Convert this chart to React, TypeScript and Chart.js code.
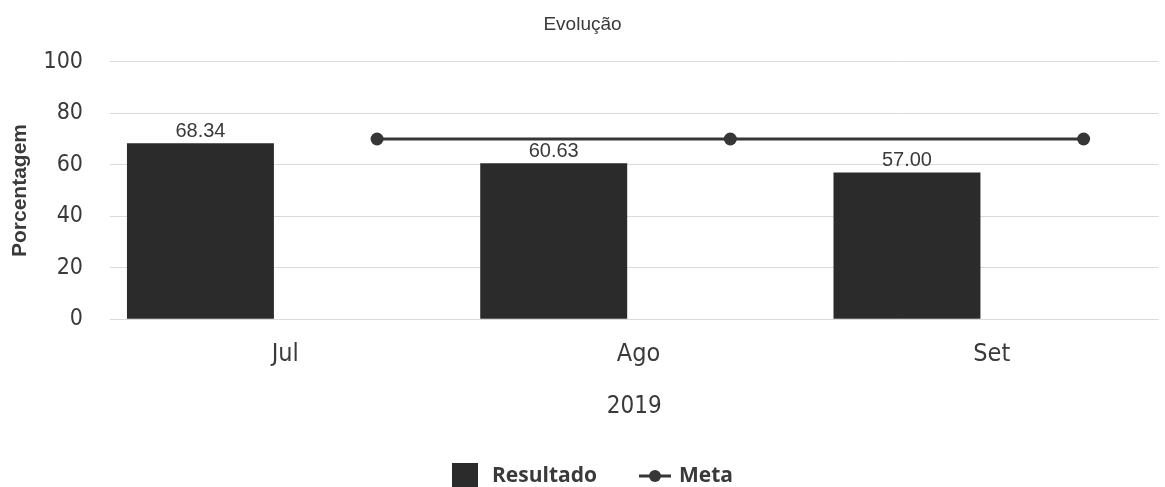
import React, { useEffect, useRef } from 'react';
import { Chart, registerables } from 'chart.js';

Chart.register(...registerables);

const chartTitle = 'Evolução';
const categories = ['Jul', 'Ago', 'Set'];
const resultado = [68.34, 60.63, 57.0];
const meta = [70, 70, 70];
const yTicks = [0, 20, 40, 60, 80, 100];
const xTitle = '2019';
const yTitle = 'Porcentagem';
const seriesNames = ['Resultado', 'Meta'];

const META_OFFSET = 0.5;
const LABEL_SHIFT = 0.24;

const NARROW = '"Liberation Sans Narrow", "DejaVu Sans Condensed", "Liberation Sans", Arial, sans-serif';
const SANS = '"Liberation Sans", Arial, sans-serif';
const LEGEND_FONT = 'bold 21px "Open Sans", "Noto Sans", sans-serif';
const BAR_COLOR = '#2b2b2b';
const LINE_COLOR = '#363636';
const TEXT = '#3a3a3a';

const dataLabels = {
  id: 'dataLabels',
  afterDatasetsDraw(chart: any) {
    const meta0 = chart.getDatasetMeta(0);
    const ctx = chart.ctx;
    ctx.save();
    ctx.font = `20px ${SANS}`;
    ctx.fillStyle = TEXT;
    ctx.textAlign = 'center';
    ctx.textBaseline = 'bottom';
    meta0.data.forEach((el: any, i: number) => {
      ctx.fillText(resultado[i].toFixed(2), el.x, el.y - 2);
    });
    ctx.restore();
  },
};

const bottomLegend = {
  id: 'bottomLegend',
  afterDraw(chart: any) {
    const ctx = chart.ctx;
    const cy = 476;
    ctx.save();
    ctx.font = LEGEND_FONT;
    const w0 = ctx.measureText(seriesNames[0]).width;
    const w1 = ctx.measureText(seriesNames[1]).width;
    const total = 26 + 14 + w0 + 42 + 32 + 8 + w1;
    let x = chart.width / 2 + 10 - total / 2;
    ctx.fillStyle = BAR_COLOR;
    ctx.fillRect(x, cy - 13, 26, 26);
    x += 26 + 14;
    ctx.fillStyle = TEXT;
    ctx.textBaseline = 'middle';
    ctx.textAlign = 'left';
    ctx.fillText(seriesNames[0], x, cy);
    x += w0 + 42;
    ctx.strokeStyle = LINE_COLOR;
    ctx.lineWidth = 3;
    ctx.beginPath();
    ctx.moveTo(x, cy);
    ctx.lineTo(x + 32, cy);
    ctx.stroke();
    ctx.fillStyle = LINE_COLOR;
    ctx.beginPath();
    ctx.arc(x + 16, cy, 6, 0, Math.PI * 2);
    ctx.fill();
    x += 32 + 8;
    ctx.fillStyle = TEXT;
    ctx.fillText(seriesNames[1], x, cy);
    ctx.restore();
  },
};

export default function App() {
  const ref = useRef<HTMLCanvasElement>(null);

  useEffect(() => {
    if (!ref.current) return;
    const chart = new Chart(ref.current, {
      type: 'bar',
      data: {
        datasets: [
          {
            type: 'bar',
            label: seriesNames[0],
            data: categories.map((_, i) => ({ x: i, y: resultado[i] })),
            backgroundColor: BAR_COLOR,
            barPercentage: 0.416,
            categoryPercentage: 1,
            order: 1,
          } as any,
          {
            type: 'line',
            label: seriesNames[1],
            data: categories.map((_, i) => ({ x: i + META_OFFSET, y: meta[i] })),
            borderColor: LINE_COLOR,
            backgroundColor: LINE_COLOR,
            borderWidth: 3,
            pointRadius: 6.5,
            pointBackgroundColor: LINE_COLOR,
            pointBorderWidth: 0,
            order: 0,
          } as any,
        ],
      },
      options: {
        animation: false,
        responsive: true,
        maintainAspectRatio: false,
        layout: { padding: { left: 0, right: 0, top: 0, bottom: 62 } },
        scales: {
          x: {
            type: 'linear',
            offset: false,
            min: -0.256,
            max: 2.712,
            grid: { display: false, drawTicks: false },
            border: { display: false },
            afterBuildTicks: (axis: any) => {
              axis.ticks = categories.map((_, i) => ({ value: i + LABEL_SHIFT }));
            },
            ticks: {
              padding: 20,
              color: TEXT,
              font: { family: NARROW, size: 25 },
              maxRotation: 0,
              autoSkip: false,
              callback: (v: any) => categories[Math.round(Number(v) - LABEL_SHIFT)] ?? '',
            },
            title: {
              display: true,
              text: xTitle,
              color: TEXT,
              font: { family: NARROW, size: 24 },
              padding: { top: 3, bottom: 4 },
            },
          },
          y: {
            min: 0,
            max: 100,
            afterFit: (scale: any) => {
              scale.width = 110;
            },
            afterBuildTicks: (axis: any) => {
              axis.ticks = yTicks.map((v) => ({ value: v }));
            },
            grid: { color: '#dadada', lineWidth: 1, drawTicks: false },
            border: { display: false },
            ticks: {
              padding: 27,
              color: TEXT,
              font: { family: NARROW, size: 23 },
            },
            title: {
              display: true,
              text: yTitle,
              color: TEXT,
              font: { family: SANS, size: 21, weight: 'bold' },
              padding: { top: 8, bottom: 0 },
            },
          },
        },
        plugins: {
          title: {
            display: true,
            text: chartTitle,
            color: TEXT,
            font: { family: SANS, size: 19, weight: 'normal' },
            padding: { top: 13, bottom: 26 },
          },
          legend: { display: false },
          tooltip: { enabled: false },
        },
      } as any,
      plugins: [dataLabels, bottomLegend],
    });
    return () => chart.destroy();
  }, []);

  return (
    <div style={{ position: 'fixed', left: 0, top: 0, width: 1165, height: 487, background: '#fff' }}>
      <canvas ref={ref} />
    </div>
  );
}
